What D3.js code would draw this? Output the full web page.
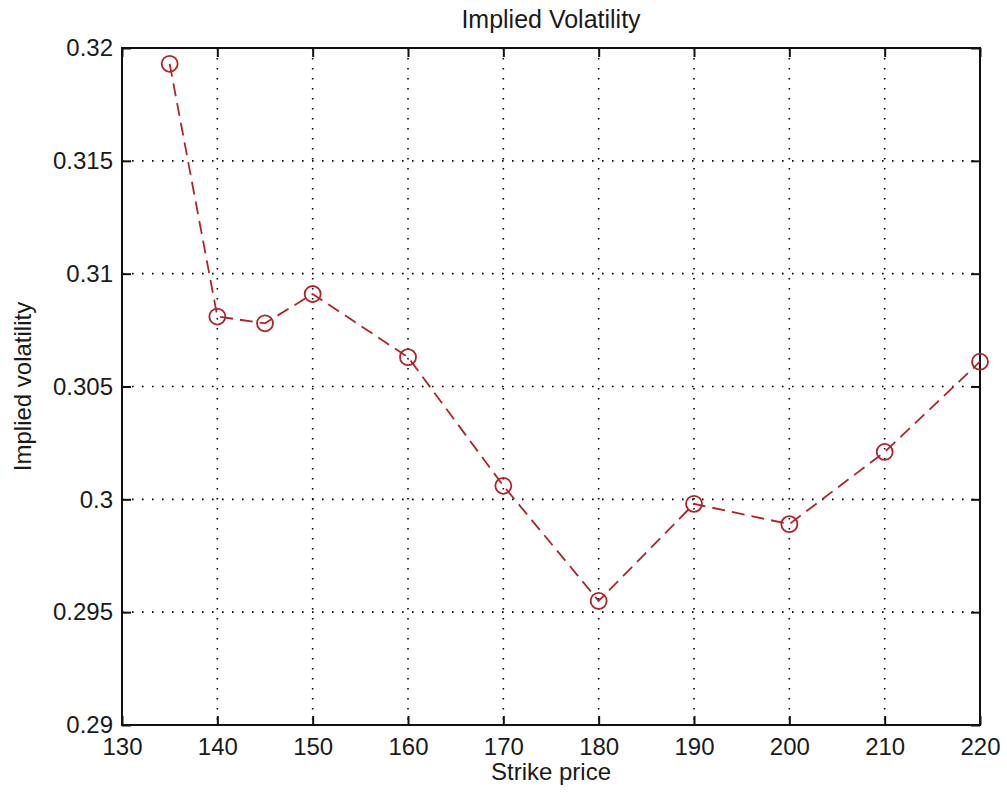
<!DOCTYPE html>
<html>
<head>
<meta charset="utf-8">
<script src="https://cdn.jsdelivr.net/npm/d3@7"></script>
<style>
  body { margin: 0; background: #fff; }
  svg text { font-family: "Liberation Sans", Arial, sans-serif; fill: #1a1a1a; }
</style>
</head>
<body>
<div id="chart"></div>
<script>
// data
var strikes = [135, 140, 145, 150, 160, 170, 180, 190, 200, 210, 220];
var vols = [0.3193, 0.3081, 0.3078, 0.3091, 0.3063, 0.3006, 0.2955, 0.2998, 0.2989, 0.3021, 0.3061];
var xTicks = [130, 140, 150, 160, 170, 180, 190, 200, 210, 220];
var yTicks = [0.29, 0.295, 0.3, 0.305, 0.31, 0.315, 0.32];

var width = 1007, height = 796;
var margin = { left: 122, right: 27, top: 48, bottom: 71 };
var innerW = width - margin.left - margin.right;
var innerH = height - margin.top - margin.bottom;

var svg = d3.select("#chart").append("svg")
  .attr("width", width)
  .attr("height", height);

var x = d3.scaleLinear().domain([130, 220]).range([0, innerW]);
var y = d3.scaleLinear().domain([0.29, 0.32]).range([innerH, 0]);

var g = svg.append("g").attr("transform", "translate(" + margin.left + "," + margin.top + ")");

// dotted grid
g.selectAll("line.vgrid").data(xTicks).enter().append("line")
  .attr("class", "vgrid")
  .attr("x1", d => x(d)).attr("x2", d => x(d))
  .attr("y1", 0).attr("y2", innerH)
  .attr("stroke", "#000").attr("stroke-width", 1.6)
  .attr("stroke-dasharray", "1.6 8.4");
g.selectAll("line.hgrid").data(yTicks).enter().append("line")
  .attr("class", "hgrid")
  .attr("x1", 0).attr("x2", innerW)
  .attr("y1", d => y(d)).attr("y2", d => y(d))
  .attr("stroke", "#000").attr("stroke-width", 1.6)
  .attr("stroke-dasharray", "1.6 8.4");

// axes with inward ticks on all four sides
var fmtY = d => String(+d.toFixed(3));
g.append("g").attr("transform", "translate(0," + innerH + ")")
  .call(d3.axisBottom(x).tickValues(xTicks).tickSizeInner(-9).tickSizeOuter(0).tickPadding(13));
g.append("g")
  .call(d3.axisTop(x).tickValues(xTicks).tickSizeInner(-9).tickSizeOuter(0).tickFormat(""));
g.append("g")
  .call(d3.axisLeft(y).tickValues(yTicks).tickSizeInner(-9).tickSizeOuter(0).tickPadding(9).tickFormat(fmtY));
g.append("g").attr("transform", "translate(" + innerW + ",0)")
  .call(d3.axisRight(y).tickValues(yTicks).tickSizeInner(-9).tickSizeOuter(0).tickFormat(""));

g.selectAll(".domain").remove();
g.selectAll(".tick line").attr("stroke", "#111").attr("stroke-width", 2);
g.selectAll(".tick text").attr("font-size", 24).attr("fill", "#1a1a1a")
  .attr("font-family", "'Liberation Sans', Arial, sans-serif");

// box
g.append("rect")
  .attr("x", 0).attr("y", 0).attr("width", innerW).attr("height", innerH)
  .attr("fill", "none").attr("stroke", "#111").attr("stroke-width", 2);

// series
var pts = strikes.map((s, i) => [s, vols[i]]);
var line = d3.line().x(d => x(d[0])).y(d => y(d[1]));
var red = "#b0232a";
g.append("path")
  .datum(pts)
  .attr("d", line)
  .attr("fill", "none")
  .attr("stroke", red)
  .attr("stroke-width", 1.8)
  .attr("stroke-dasharray", "13 7");
g.selectAll("circle.pt").data(pts).enter().append("circle")
  .attr("class", "pt")
  .attr("cx", d => x(d[0])).attr("cy", d => y(d[1]))
  .attr("r", 8)
  .attr("fill", "none")
  .attr("stroke", red)
  .attr("stroke-width", 1.8);

// titles
svg.append("text")
  .attr("x", margin.left + innerW / 2).attr("y", 28)
  .attr("text-anchor", "middle").attr("font-size", 25)
  .text("Implied Volatility");
svg.append("text")
  .attr("x", margin.left + innerW / 2).attr("y", 780)
  .attr("text-anchor", "middle").attr("font-size", 24)
  .text("Strike price");
svg.append("text")
  .attr("transform", "translate(31," + (margin.top + innerH / 2) + ") rotate(-90)")
  .attr("text-anchor", "middle").attr("font-size", 24)
  .text("Implied volatility");
</script>
</body>
</html>
